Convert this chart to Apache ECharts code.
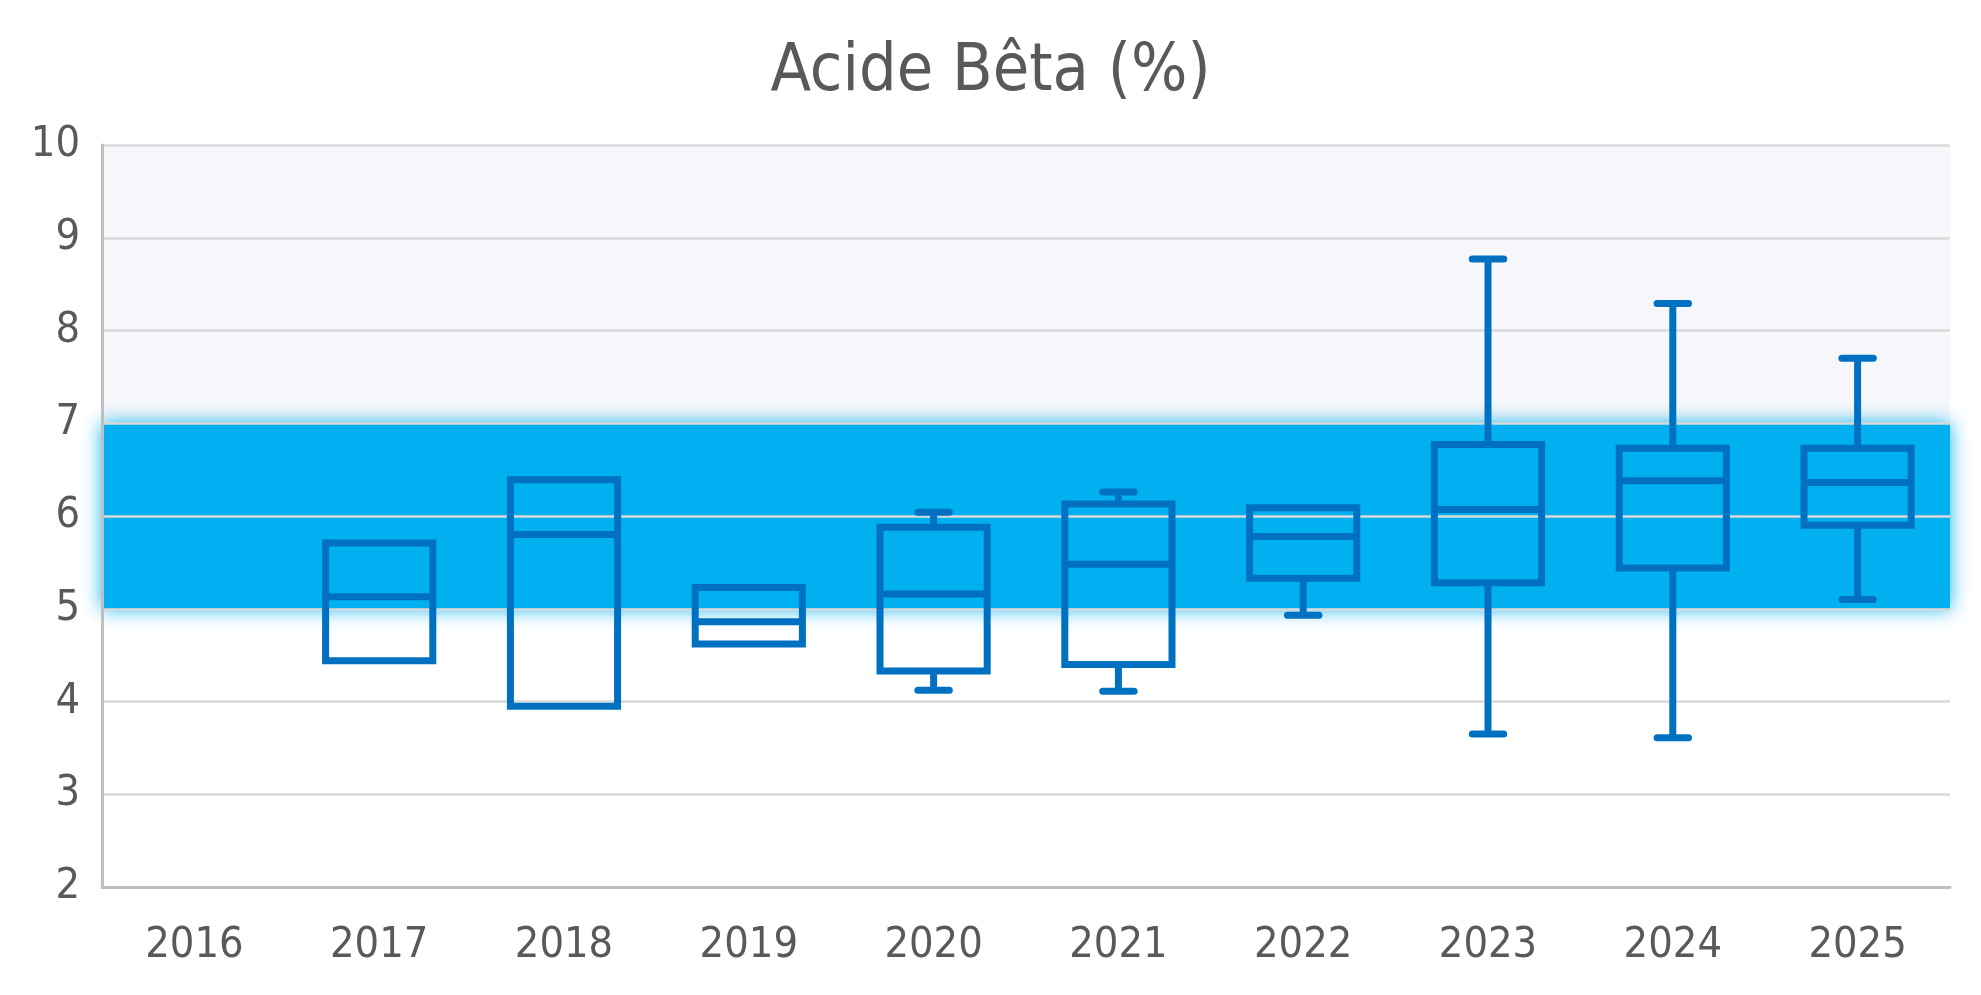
<!DOCTYPE html>
<html>
<head>
<meta charset="utf-8">
<script src="https://cdn.jsdelivr.net/npm/echarts@6/dist/echarts.min.js"></script>
<style>
html, body { margin: 0; padding: 0; background: #fff; }
#chart { width: 1981px; height: 995px; }
</style>
</head>
<body>
<div id="chart"></div>
<script>
// Acide Bêta (%) per year, box = Q1..Q3, line = median, whiskers = min / max
var years = ['2016', '2017', '2018', '2019', '2020', '2021', '2022', '2023', '2024', '2025'];
var mins    = [null, 4.44, 3.95, 4.62, 4.12, 4.11, 4.93, 3.65, 3.61, 5.10];
var q1s     = [null, 4.44, 3.95, 4.62, 4.33, 4.40, 5.33, 5.28, 5.44, 5.90];
var medians = [null, 5.13, 5.80, 4.86, 5.16, 5.48, 5.78, 6.07, 6.38, 6.36];
var q3s     = [null, 5.71, 6.39, 5.23, 5.88, 6.13, 6.09, 6.77, 6.73, 6.73];
var maxs    = [null, 5.71, 6.39, 5.23, 6.04, 6.26, 6.09, 8.77, 8.29, 7.70];
var targetLow = 5, targetHigh = 7;
var yTicks = [2, 10];

var font = '"DejaVu Sans Condensed", "DejaVu Sans", sans-serif';
var boxColor = '#0070C0';

var boxData = [];
for (var i = 0; i < years.length; i++) {
	if (medians[i] == null) continue;
	boxData.push([i, mins[i], q1s[i], medians[i], q3s[i], maxs[i]]);
}

function renderBox(params, api) {
	var idx = api.value(0);
	var band = api.size([1, 0])[0];
	var halfW = band * 0.29;
	var capW = band * 0.085;
	var pMin = api.coord([idx, api.value(1)]);
	var pQ1 = api.coord([idx, api.value(2)]);
	var pMed = api.coord([idx, api.value(3)]);
	var pQ3 = api.coord([idx, api.value(4)]);
	var pMax = api.coord([idx, api.value(5)]);
	var x = pMed[0];
	var st = { stroke: boxColor, lineWidth: 7, fill: null };
	var cap = { stroke: boxColor, lineWidth: 7, lineCap: 'round' };
	var children = [];
	if (api.value(5) > api.value(4)) {
		children.push({ type: 'line', shape: { x1: x, y1: pQ3[1], x2: x, y2: pMax[1] }, style: st });
		children.push({ type: 'line', shape: { x1: x - capW, y1: pMax[1], x2: x + capW, y2: pMax[1] }, style: cap });
	}
	if (api.value(1) < api.value(2)) {
		children.push({ type: 'line', shape: { x1: x, y1: pQ1[1], x2: x, y2: pMin[1] }, style: st });
		children.push({ type: 'line', shape: { x1: x - capW, y1: pMin[1], x2: x + capW, y2: pMin[1] }, style: cap });
	}
	children.push({ type: 'rect', shape: { x: x - halfW, y: pQ3[1], width: halfW * 2, height: pQ1[1] - pQ3[1] }, style: st });
	children.push({ type: 'line', shape: { x1: x - halfW, y1: pMed[1], x2: x + halfW, y2: pMed[1] }, style: st });
	return { type: 'group', children: children };
}

var chart = echarts.init(document.getElementById('chart'));
chart.setOption({
	backgroundColor: '#fff',
	animation: false,
	title: {
		text: 'Acide Bêta (%)',
		left: 'center',
		top: 35,
		textStyle: { fontFamily: font, fontSize: 66, fontWeight: 'normal', color: '#595959' }
	},
	grid: { left: 102, right: 31, top: 145, bottom: 108 },
	xAxis: {
		type: 'category',
		data: years,
		boundaryGap: true,
		axisTick: { show: false },
		axisLine: { lineStyle: { color: '#BFBFBF', width: 3 } },
		axisLabel: { fontFamily: font, fontSize: 43, color: '#595959', margin: 37 },
		z: 3
	},
	yAxis: {
		type: 'value',
		min: yTicks[0],
		max: yTicks[1],
		interval: 1,
		axisLine: { show: true, lineStyle: { color: '#BFBFBF', width: 3 } },
		axisTick: { show: false },
		axisLabel: { fontFamily: font, fontSize: 43, color: '#595959', margin: 22 },
		splitLine: { lineStyle: { color: '#D9D9D9', width: 2.5 } },
		z: 3
	},
	series: [
		{
			type: 'line',
			data: [],
			silent: true,
			markArea: {
				silent: true,
				z: 1,
				data: [
					[{ yAxis: targetHigh, itemStyle: { color: '#F6F7FA' } }, { yAxis: yTicks[1] }],
					[{ yAxis: targetLow, itemStyle: { color: '#00B0F0', shadowBlur: 18, shadowColor: 'rgba(0,176,240,0.95)' } }, { yAxis: targetHigh }]
				]
			}
		},
		{
			type: 'custom',
			z: 10,
			renderItem: renderBox,
			encode: { x: 0, y: [1, 2, 3, 4, 5] },
			data: boxData
		}
	]
});
</script>
</body>
</html>
